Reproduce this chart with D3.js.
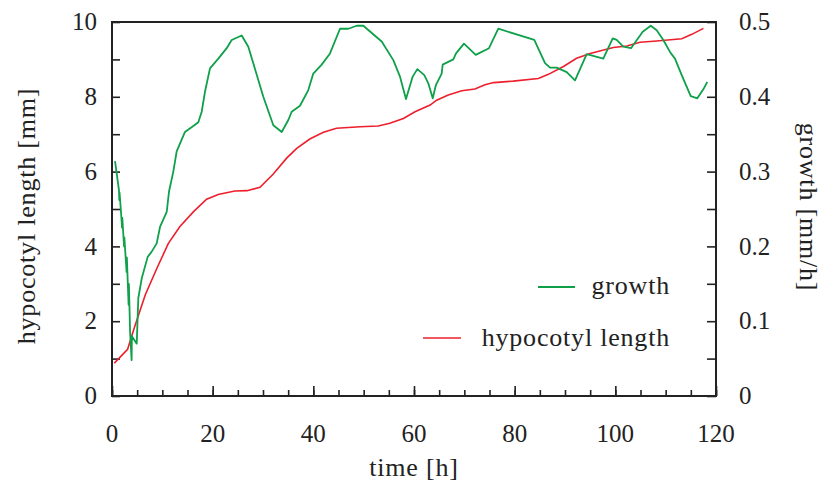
<!DOCTYPE html>
<html>
<head>
<meta charset="utf-8">
<script src="https://cdn.jsdelivr.net/npm/d3@7"></script>
<style>
  body { margin: 0; background: #fff; }
  svg text { font-family: 'Liberation Serif', 'Times New Roman', Times, Tinos, 'DejaVu Serif', 'Noto Serif', serif; fill: #222; }
  .tick-label { font-size: 25px; }
  .axis-text { font-size: 26px; letter-spacing: 0.8px; }
</style>
</head>
<body>
<div class="chart"></div>
<script>
// hypocotyl length [mm] over time [h]
var lengthTime = [0.46, 3.1, 4.4, 6.6, 8.9, 11.2, 13.5, 16.2, 18.8, 21.1, 24.4, 26.8, 29.4, 32.0, 34.7,
  36.7, 39.3, 42.0, 44.6, 49.3, 52.9, 55.2, 57.9, 60.2, 63.2, 64.5, 66.8, 69.5, 72.1, 74.1, 75.8,
  79.7, 84.7, 86.7, 89.7, 92.3, 95.0, 99.6, 102.3, 104.9, 108.2, 113.2, 115.2, 117.5];
var lengthMm = [0.88, 1.25, 1.81, 2.70, 3.41, 4.08, 4.53, 4.93, 5.26, 5.39, 5.48, 5.49, 5.58, 5.93, 6.36,
  6.62, 6.87, 7.05, 7.16, 7.20, 7.22, 7.29, 7.42, 7.60, 7.78, 7.91, 8.05, 8.16, 8.21, 8.32, 8.38,
  8.42, 8.49, 8.60, 8.81, 9.03, 9.16, 9.32, 9.36, 9.46, 9.49, 9.55, 9.67, 9.83];

// growth [mm/h] over time [h]
var growthTime = [0.6, 1.39, 1.45, 1.5, 1.8, 2.0, 2.05, 2.4, 2.45, 2.9, 2.95, 3.3, 3.35, 3.6, 3.9, 3.95,
  4.91, 5.23, 5.9, 7.09, 7.89, 8.88, 9.54, 10.87, 11.32, 12.18, 12.85, 14.5, 16.15, 17.15, 17.82,
  18.48, 19.47, 21.12, 22.79, 23.78, 25.77, 27.08, 28.07, 30.06, 32.05, 33.72, 35.03, 35.7, 37.35,
  39.0, 39.99, 41.66, 43.31, 45.3, 46.95, 48.62, 49.93, 53.58, 55.89, 57.22, 57.8, 58.41, 59.74,
  60.66, 62.05, 62.84, 63.72, 64.37, 65.5, 65.7, 67.81, 68.35, 69.93, 72.26, 74.9, 76.75, 83.9,
  86.03, 87.02, 88.35, 90.34, 91.99, 94.31, 97.61, 99.48, 100.27, 101.58, 103.11, 105.44, 107.03,
  108.22, 109.53, 110.86, 111.85, 113.19, 114.98, 116.29, 117.48, 118.27];
var growthRate = [0.314, 0.275, 0.262, 0.272, 0.245, 0.225, 0.238, 0.200, 0.212, 0.166, 0.185, 0.122, 0.150, 0.085, 0.048, 0.080,
  0.070, 0.131, 0.157, 0.186, 0.193, 0.204, 0.226, 0.246, 0.273, 0.300, 0.327, 0.353, 0.361, 0.366, 0.380,
  0.407, 0.438, 0.451, 0.465, 0.476, 0.482, 0.467, 0.445, 0.400, 0.362, 0.353, 0.369, 0.380, 0.388,
  0.409, 0.431, 0.443, 0.458, 0.491, 0.491, 0.495, 0.495, 0.474, 0.449, 0.427, 0.412, 0.397, 0.427,
  0.437, 0.429, 0.418, 0.398, 0.416, 0.431, 0.443, 0.450, 0.458, 0.471, 0.456, 0.465, 0.491, 0.476,
  0.445, 0.439, 0.439, 0.433, 0.422, 0.457, 0.451, 0.478, 0.476, 0.467, 0.465, 0.487, 0.495,
  0.489, 0.476, 0.460, 0.451, 0.429, 0.401, 0.398, 0.410, 0.420];

var xTicks = [0, 20, 40, 60, 80, 100, 120];
var yLeftTicks = [0, 2, 4, 6, 8, 10];
var yRightTicks = [0, 0.1, 0.2, 0.3, 0.4, 0.5];

var svgWidth = 825, svgHeight = 484;
var margin = { top: 22, right: 109, bottom: 88, left: 112 };
var chartWidth = svgWidth - margin.left - margin.right;
var chartHeight = svgHeight - margin.top - margin.bottom;

var svg = d3.select(".chart")
  .append("svg")
  .attr("width", svgWidth)
  .attr("height", svgHeight);

var chartGroup = svg.append("g")
  .attr("transform", `translate(${margin.left}, ${margin.top})`);

// scales
var xScale = d3.scaleLinear().domain([0, 120]).range([0, chartWidth]);
var yLeft = d3.scaleLinear().domain([0, 10]).range([chartHeight, 0]);
var yRight = d3.scaleLinear().domain([0, 0.5]).range([chartHeight, 0]);

// inward ticks (no labels), labels drawn separately
var xMinor = d3.axisBottom(xScale).tickValues(d3.range(0, 121, 5)).tickSize(-6).tickFormat("");
var xMajor = d3.axisBottom(xScale).tickValues(xTicks).tickSize(-10).tickFormat("");
var leftAx = d3.axisLeft(yLeft).tickValues(d3.range(0, 11, 1)).tickSize(-8).tickFormat("");
var rightAx = d3.axisRight(yRight).tickValues(d3.range(0, 0.51, 0.05)).tickSize(-9).tickFormat("");

[xMinor, xMajor].forEach(function(ax) {
  chartGroup.append("g").attr("class", "ax")
    .attr("transform", `translate(0, ${chartHeight})`)
    .call(ax);
});
chartGroup.append("g").attr("class", "ax").call(leftAx);
chartGroup.append("g").attr("class", "ax")
  .attr("transform", `translate(${chartWidth}, 0)`)
  .call(rightAx);

chartGroup.selectAll(".ax .domain").remove();
chartGroup.selectAll(".ax line").attr("stroke", "#222").attr("stroke-width", 1.6);

// frame
chartGroup.append("rect")
  .attr("width", chartWidth)
  .attr("height", chartHeight)
  .attr("fill", "none")
  .attr("stroke", "#222")
  .attr("stroke-width", 2);

// tick labels
chartGroup.selectAll(".xlab")
  .data(xTicks).enter().append("text")
  .attr("class", "tick-label")
  .attr("x", d => xScale(d))
  .attr("y", chartHeight + 46)
  .attr("text-anchor", "middle")
  .text(d => d);

chartGroup.selectAll(".ylab")
  .data(yLeftTicks).enter().append("text")
  .attr("class", "tick-label")
  .attr("x", -15)
  .attr("y", d => yLeft(d))
  .attr("dy", "0.33em")
  .attr("text-anchor", "end")
  .text(d => d);

chartGroup.selectAll(".y2lab")
  .data(yRightTicks).enter().append("text")
  .attr("class", "tick-label")
  .attr("x", chartWidth + 23)
  .attr("y", d => yRight(d))
  .attr("dy", "0.33em")
  .text(d => d);

// lines
var lengthLine = d3.line()
  .x((d, i) => xScale(lengthTime[i]))
  .y(d => yLeft(d));

var growthLine = d3.line()
  .x((d, i) => xScale(growthTime[i]))
  .y(d => yRight(d));

chartGroup.append("path")
  .attr("d", lengthLine(lengthMm))
  .attr("fill", "none")
  .attr("stroke", "#ee1f2d")
  .attr("stroke-width", 1.6);

chartGroup.append("path")
  .attr("d", growthLine(growthRate))
  .attr("fill", "none")
  .attr("stroke", "#0fa04a")
  .attr("stroke-width", 1.8)
  .attr("stroke-linejoin", "round");

// legend
var legend = svg.append("g");
legend.append("line")
  .attr("x1", 538).attr("x2", 575).attr("y1", 287).attr("y2", 287)
  .attr("stroke", "#0fa04a").attr("stroke-width", 1.8);
legend.append("text")
  .attr("class", "axis-text")
  .attr("x", 670).attr("y", 294)
  .attr("text-anchor", "end")
  .text("growth");
legend.append("line")
  .attr("x1", 423).attr("x2", 461).attr("y1", 338).attr("y2", 338)
  .attr("stroke", "#ee1f2d").attr("stroke-width", 1.6);
legend.append("text")
  .attr("class", "axis-text")
  .attr("x", 670).attr("y", 346)
  .attr("text-anchor", "end")
  .text("hypocotyl length");

// axis titles
svg.append("text")
  .attr("class", "axis-text")
  .attr("x", margin.left + chartWidth / 2)
  .attr("y", 476)
  .attr("text-anchor", "middle")
  .text("time [h]");

svg.append("text")
  .attr("class", "axis-text")
  .attr("transform", "translate(35, 216) rotate(-90)")
  .attr("text-anchor", "middle")
  .text("hypocotyl length [mm]");

svg.append("text")
  .attr("class", "axis-text")
  .attr("transform", "translate(800, 207) rotate(90)")
  .attr("text-anchor", "middle")
  .text("growth [mm/h]");
</script>
</body>
</html>
